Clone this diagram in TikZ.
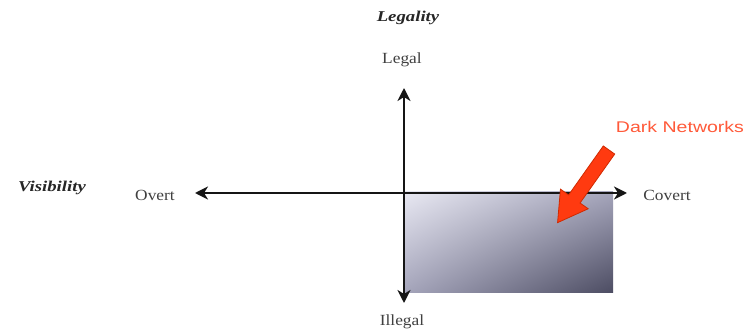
\documentclass[tikz,border=0pt]{standalone}
\usepackage{fontspec}
\setmainfont{Liberation Serif}
\newfontfamily\sansf{Liberation Sans}
\usetikzlibrary{arrows.meta,calc,shadings}
\definecolor{boxlight}{HTML}{E8E8F2}
\definecolor{boxmid}{HTML}{A4A4BA}
\definecolor{boxdark}{HTML}{4C4C62}
\definecolor{darkred}{HTML}{FF3A10}
\definecolor{darkredline}{HTML}{D02A00}
\definecolor{labelred}{HTML}{FF5A3A}
\definecolor{axisgray}{HTML}{151515}
\begin{document}
\begin{tikzpicture}[x=1pt,y=1pt,
  axis/.style={line width=2.7pt,draw=axisgray,-{Stealth[length=13pt,width=13pt,inset=4pt]}},
  lbl/.style={font=\fontsize{15.5}{17}\selectfont,text=black!75,inner sep=0pt,xscale=1.12},
  title/.style={font=\fontsize{15}{17}\selectfont\bfseries\itshape,text=black!85,inner sep=0pt,xscale=1.25},
  dn/.style={font=\sansf\fontsize{15.5}{18}\selectfont,text=labelred,inner sep=0pt,xscale=1.26}]
\fill[white] (0,0) rectangle (747,332);
\useasboundingbox (0,0) rectangle (747,332);
% shaded quadrant
\shade[upper left=boxlight,upper right=boxmid,lower left=boxmid,lower right=boxdark] (405,140) rectangle (613,39);
% axes
\coordinate (o) at (404,139);
\coordinate (up) at (404,244);
\coordinate (down) at (404,29);
\coordinate (left) at (195,139);
\coordinate (right) at (627,139);
\draw[axis] (o) -- (up);
\draw[axis] (o) -- (down);
\draw[axis] (o) -- (left);
\draw[axis] (o) -- (right);
% labels
\node[title] (legality) at (408,314) {Legality};
\node[title] (visibility) at (52,144) {Visibility};
\node[lbl] (legal) at (402,272) {Legal};
\node[lbl] (illegal) at (402,10) {Illegal};
\node[lbl] (overt) at (155,137) {Overt};
\node[lbl] (covert) at (667,137) {Covert};
\node[dn] (dark) at (680,205) {Dark Networks};
% red block arrow
\begin{scope}[shift={(609,182)},rotate=234.7]
\filldraw[fill=darkred,draw=darkredline,line width=0.8pt,line join=miter]
  (0,7) -- (60,7) -- (60,17) -- (89,0) -- (60,-17) -- (60,-7) -- (0,-7) -- cycle;
\end{scope}
\end{tikzpicture}
\end{document}
